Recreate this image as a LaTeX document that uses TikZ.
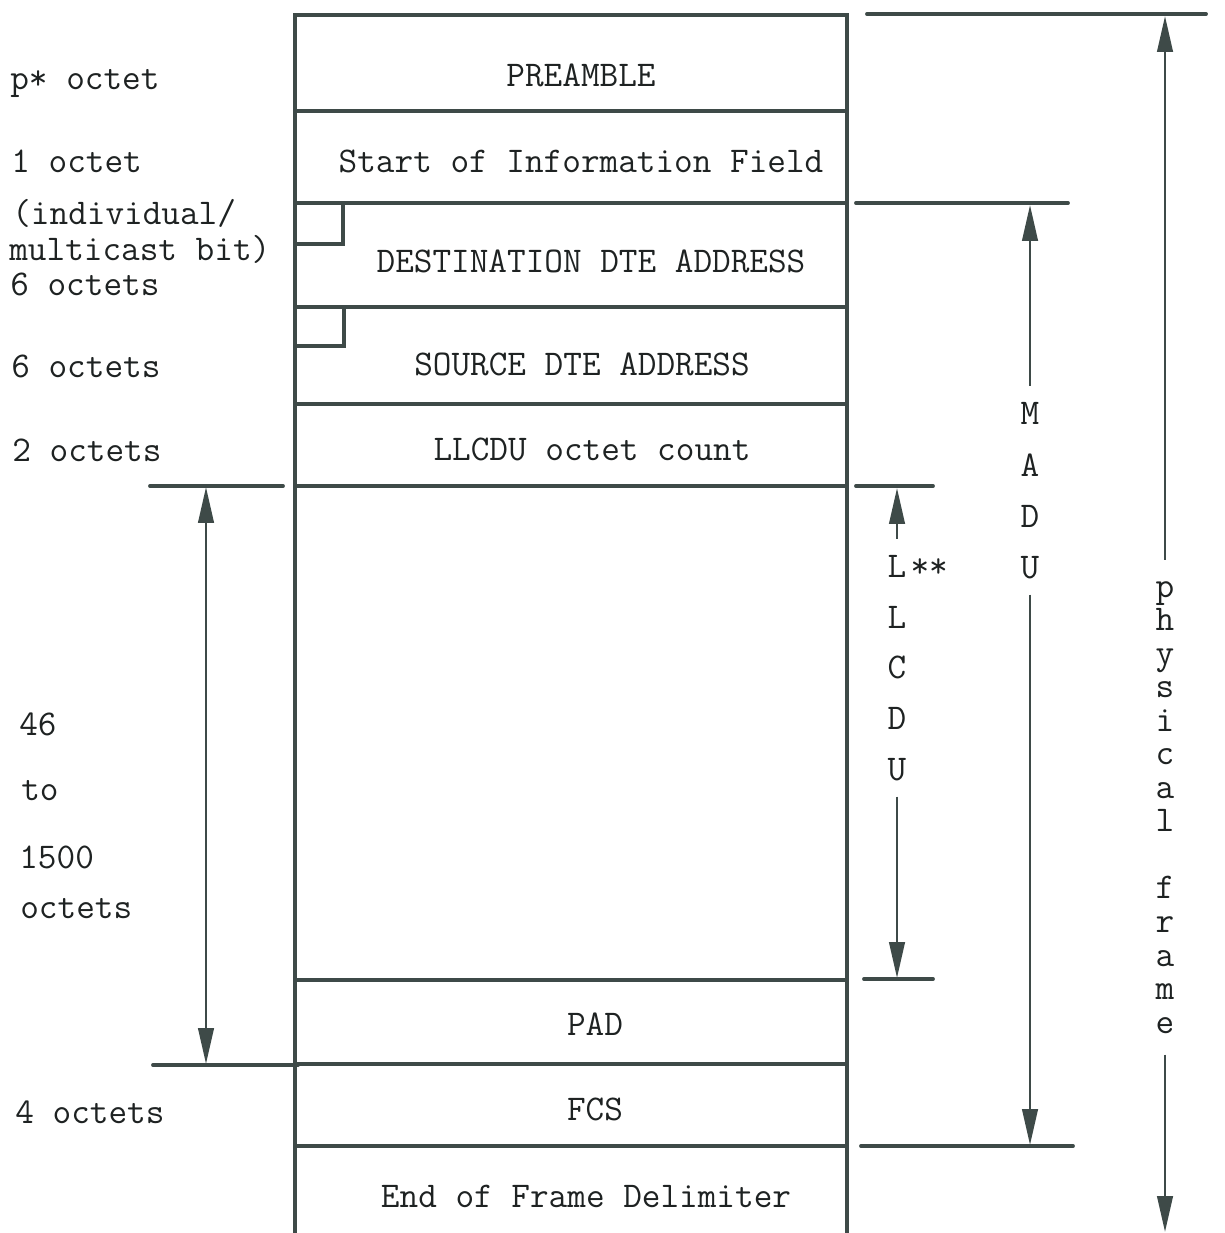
\documentclass[tikz,border=0pt]{standalone}
\usetikzlibrary{arrows.meta}

\definecolor{inkline}{RGB}{62,74,72}
\definecolor{inktext}{RGB}{30,34,34}
\newcommand{\typefont}{\fontsize{20.6}{24}\selectfont\ttfamily}

\tikzset{
  >={Triangle[length=0.72cm, width=0.31cm]},
  frameline/.style={inkline, line width=2.1pt, line cap=round},
  extline/.style={inkline, line width=2.2pt, line cap=round},
  dimarrow/.style={inkline, line width=1.6pt},
  fieldtext/.style={inktext, font=\typefont, anchor=base, inner sep=0pt},
  sidetext/.style={inktext, font=\typefont, anchor=base west, inner sep=0pt},
  letter/.style={inktext, font=\typefont, anchor=base, inner xsep=0pt, inner ysep=9pt},
}

\begin{document}
\begin{tikzpicture}[x=0.02cm, y=-0.02cm]
  \useasboundingbox (0,0) rectangle (1224,1233);

  % frame outline and field borders
  \draw[frameline] (295,1233) -- (295,15) -- (847,15) -- (847,1233);
  \draw[frameline] (295,111) -- (847,111);
  \draw[frameline] (295,203) -- (847,203);
  \draw[frameline] (295,307) -- (847,307);
  \draw[frameline] (295,404) -- (847,404);
  \draw[frameline] (295,486) -- (847,486);
  \draw[frameline] (295,980) -- (847,980);
  \draw[frameline] (295,1064) -- (847,1064);
  \draw[frameline] (295,1146) -- (847,1146);
  \draw[frameline] (295,244) -| (343,203);
  \draw[frameline] (295,346) -| (344,307);

  % field names
  \node[fieldtext] (preamble) at (581,87) {PREAMBLE};
  \node[fieldtext] (sif) at (581,173) {Start of Information Field};
  \node[fieldtext] (dest) at (591,272) {DESTINATION DTE ADDRESS};
  \node[fieldtext] (src) at (582,375) {SOURCE DTE ADDRESS};
  \node[fieldtext] (count) at (592,460) {LLCDU octet count};
  \node[fieldtext] (pad) at (595,1035) {PAD};
  \node[fieldtext] (fcs) at (595,1120) {FCS};
  \node[fieldtext] (efd) at (586,1207) {End of Frame Delimiter};

  % field sizes
  \node[sidetext] (lpre) at (10,90) {p* octet};
  \node[sidetext] (lsif) at (11,173) {1 octet};
  \node[sidetext] (lbit) at (12,224) {(individual/};
  \node[sidetext] (lcast) at (9,260) {multicast bit)};
  \node[sidetext] (ldest) at (10,295) {6 octets};
  \node[sidetext] (lsrc) at (11,377) {6 octets};
  \node[sidetext] (lcount) at (12,461) {2 octets};
  \node[sidetext] (ldata1) at (19,735) {46};
  \node[sidetext] (ldata2) at (21,800) {to};
  \node[sidetext] (ldata3) at (19,868) {1500};
  \node[sidetext] (ldata4) at (20,918) {octets};
  \node[sidetext] (lfcs) at (15,1123) {4 octets};

  % extension lines
  \draw[extline] (150,486) -- (283,486);
  \draw[extline] (153,1065) -- (298,1065);
  \draw[extline] (867,14) -- (1206,14);
  \draw[extline] (856,203) -- (1068,203);
  \draw[extline] (856,486) -- (933,486);
  \draw[extline] (864,979) -- (933,979);
  \draw[extline] (861,1146) -- (1073,1146);

  % LLCDU
  \node[letter] (ll1) at (897,577) {L};
  \node[letter, anchor=base west, inner ysep=0pt] (llstars) at ([xshift=2pt]ll1.base east) {**};
  \node[letter] (ll2) at (897,628) {L};
  \node[letter] (ll3) at (897,678) {C};
  \node[letter] (ll4) at (897,729) {D};
  \node[letter] (ll5) at (897,780) {U};

  % MADU
  \node[letter] (ma1) at (1030,424) {M};
  \node[letter] (ma2) at (1030,476) {A};
  \node[letter] (ma3) at (1030,527) {D};
  \node[letter] (ma4) at (1030,578) {U};

  % physical frame
  \node[letter] (ph1) at (1165,597) {p};
  \node[letter] (ph2) at (1165,630) {h};
  \node[letter] (ph3) at (1165,664) {y};
  \node[letter] (ph4) at (1165,697) {s};
  \node[letter] (ph5) at (1165,731) {i};
  \node[letter] (ph6) at (1165,764) {c};
  \node[letter] (ph7) at (1165,798) {a};
  \node[letter] (ph8) at (1165,831) {l};
  \node[letter] (ph9) at (1165,898) {f};
  \node[letter] (ph10) at (1165,932) {r};
  \node[letter] (ph11) at (1165,966) {a};
  \node[letter] (ph12) at (1165,999) {m};
  \node[letter] (ph13) at (1165,1033) {e};

  % dimension arrows
  \coordinate (datatop) at (206,487);
  \coordinate (databot) at (206,1064);
  \coordinate (lltop) at (897,488);
  \coordinate (llbot) at (897,978);
  \coordinate (matop) at (1030,205);
  \coordinate (mabot) at (1030,1145);
  \coordinate (phtop) at (1165,16);
  \coordinate (phbot) at (1165,1232);

  \draw[dimarrow, <->] (datatop) -- (databot);
  \draw[dimarrow, ->] (ll1.north) -- (lltop);
  \draw[dimarrow, ->] (ll5.south) -- (llbot);
  \draw[dimarrow, ->] (ma1.north) -- (matop);
  \draw[dimarrow, ->] (ma4.south) -- (mabot);
  \draw[dimarrow, ->] ([yshift=3pt]ph1.north) -- (phtop);
  \draw[dimarrow, ->] ([yshift=-3pt]ph13.south) -- (phbot);
\end{tikzpicture}
\end{document}
